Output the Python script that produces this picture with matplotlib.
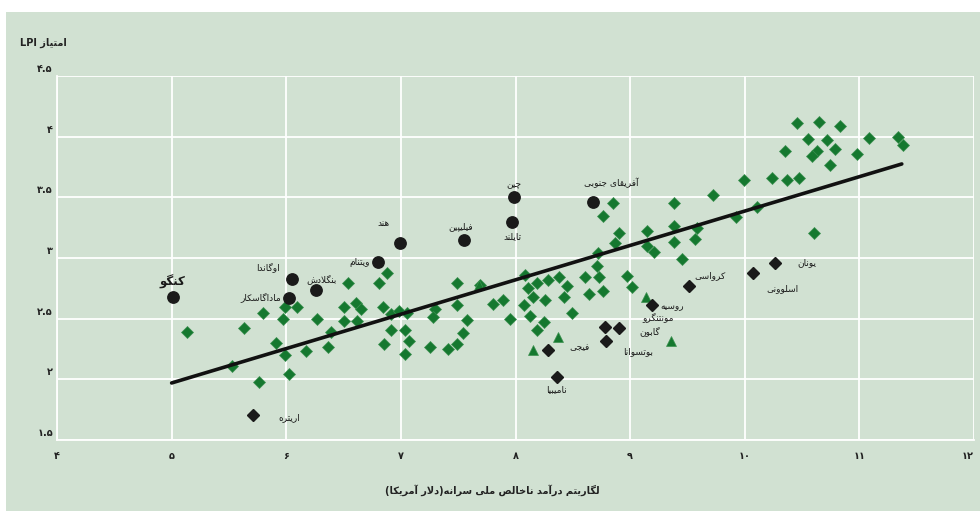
import matplotlib
matplotlib.use('Agg')
import matplotlib.pyplot as plt
import matplotlib.transforms as mtransforms
from matplotlib.patches import Rectangle

plt.rcParams['font.family'] = ['DejaVu Sans']

# ---------------- data ----------------
green_x = [5.13, 5.63, 5.80, 5.97, 5.99, 6.09, 6.27, 5.91, 5.99, 6.17, 6.36, 5.53, 6.02, 5.76,
           6.39, 6.50, 6.61, 6.65, 6.50, 6.62, 6.54, 6.81, 6.88, 6.84, 6.91, 6.98, 7.05, 6.91,
           7.04, 7.07, 6.85, 7.04, 7.25, 7.30, 7.28, 7.49, 7.49, 7.58, 7.54, 7.49, 7.41, 7.69,
           7.80, 7.89, 7.95, 8.08, 8.07, 8.13, 8.11, 8.19, 8.15, 8.26, 8.28, 8.38, 8.45, 8.42,
           8.49, 8.25, 8.19, 8.61, 8.71, 8.73, 8.64, 8.76, 8.72, 8.87, 8.90, 8.76, 8.85, 8.97,
           9.02, 9.15, 9.21, 9.15, 9.38, 9.72, 9.99, 10.11, 9.92, 9.38, 9.58, 9.57, 9.38, 9.45,
           10.46, 10.65, 10.83, 10.55, 10.72, 10.79, 10.63, 10.59, 10.74, 10.35, 10.98, 11.08,
           11.34, 11.38, 10.24, 10.37, 10.47, 10.60]
green_y = [2.39, 2.42, 2.55, 2.50, 2.60, 2.60, 2.50, 2.30, 2.20, 2.23, 2.27, 2.11, 2.04, 1.98,
           2.39, 2.60, 2.63, 2.58, 2.48, 2.48, 2.79, 2.79, 2.88, 2.60, 2.54, 2.56, 2.55, 2.41,
           2.41, 2.32, 2.29, 2.21, 2.27, 2.58, 2.51, 2.79, 2.61, 2.49, 2.38, 2.29, 2.25, 2.78,
           2.62, 2.65, 2.50, 2.86, 2.61, 2.52, 2.75, 2.79, 2.68, 2.65, 2.82, 2.84, 2.77, 2.68,
           2.55, 2.47, 2.41, 2.84, 2.93, 2.84, 2.70, 2.73, 3.04, 3.12, 3.21, 3.35, 3.45, 2.85,
           2.76, 3.22, 3.05, 3.10, 3.45, 3.52, 3.64, 3.42, 3.34, 3.26, 3.25, 3.16, 3.13, 2.99,
           4.11, 4.12, 4.09, 3.98, 3.97, 3.90, 3.88, 3.84, 3.77, 3.88, 3.86, 3.99,
           4.00, 3.93, 3.66, 3.64, 3.66, 3.21]

tri_x = [7.68, 8.15, 8.37, 9.14, 9.36]
tri_y = [2.78, 2.24, 2.35, 2.68, 2.32]

circle_names = ['کنگو', 'اوگاندا', 'ماداگاسکار', 'بنگلادش', 'ویتنام', 'هند', 'فیلیپین',
                'چین', 'تایلند', 'آفریقای جنوبی']
circle_x = [5.01, 6.05, 6.02, 6.26, 6.80, 6.99, 7.55, 7.99, 7.97, 8.68]
circle_y = [2.68, 2.83, 2.67, 2.74, 2.97, 3.12, 3.15, 3.50, 3.30, 3.46]

black_names = ['اریتره', 'نامیبیا', 'فیجی', 'مونتنگرو', 'گابون', 'بوتسوانا', 'روسیه',
               'کرواسی', 'اسلوونی', 'یونان']
black_x = [5.71, 8.36, 8.28, 8.78, 8.90, 8.79, 9.19, 9.51, 10.07, 10.26]
black_y = [1.71, 2.02, 2.24, 2.43, 2.42, 2.32, 2.61, 2.77, 2.88, 2.96]

trend_x = [5.0, 11.37]
trend_y = [1.97, 3.775]

x_ticks = [4, 5, 6, 7, 8, 9, 10, 11, 12]
x_tick_labels = ['۴', '۵', '۶', '۷', '۸', '۹', '۱۰', '۱۱', '۱۲']
y_ticks = [1.5, 2.0, 2.5, 3.0, 3.5, 4.0, 4.5]
y_tick_labels = ['۱.۵', '۲', '۲.۵', '۳', '۳.۵', '۴', '۴.۵']

x_title = 'لگاریتم درآمد ناخالص ملی سرانه(دلار آمریکا)'
y_title = 'امتیاز LPI'

# ---------------- label layout (pixel offsets, ha) ----------------
label_layout = {
    'کنگو': (0, 15, 'center'),
    'اوگاندا': (-12, 11, 'right'),
    'ماداگاسکار': (-7, 1, 'right'),
    'بنگلادش': (6, 10, 'center'),
    'ویتنام': (-8, -1, 'right'),
    'هند': (-16, 20, 'center'),
    'فیلیپین': (-3, 13, 'center'),
    'چین': (0, 13, 'center'),
    'تایلند': (0, -15, 'center'),
    'آفریقای جنوبی': (18, 19, 'center'),
    'اریتره': (25, -3, 'left'),
    'نامیبیا': (0, -13, 'center'),
    'فیجی': (22, 3, 'left'),
    'مونتنگرو': (37, 10, 'left'),
    'گابون': (21, -3, 'left'),
    'بوتسوانا': (17, -11, 'left'),
    'روسیه': (8, -1, 'left'),
    'کرواسی': (6, 10, 'left'),
    'اسلوونی': (30, -16, 'center'),
    'یونان': (23, 0, 'left'),
}

# ---------------- Persian shaping ----------------
AR = {
    '\u0627': ('\uFE8D', '\uFE8E'), '\u0622': ('\uFE81', '\uFE82'),
    '\u062F': ('\uFEA9', '\uFEAA'), '\u0630': ('\uFEAB', '\uFEAC'),
    '\u0631': ('\uFEAD', '\uFEAE'), '\u0632': ('\uFEAF', '\uFEB0'),
    '\u0698': ('\uFB8A', '\uFB8B'), '\u0648': ('\uFEED', '\uFEEE'),
    '\u0628': ('\uFE8F', '\uFE90', '\uFE91', '\uFE92'),
    '\u067E': ('\uFB56', '\uFB57', '\uFB58', '\uFB59'),
    '\u062A': ('\uFE95', '\uFE96', '\uFE97', '\uFE98'),
    '\u062B': ('\uFE99', '\uFE9A', '\uFE9B', '\uFE9C'),
    '\u062C': ('\uFE9D', '\uFE9E', '\uFE9F', '\uFEA0'),
    '\u0686': ('\uFB7A', '\uFB7B', '\uFB7C', '\uFB7D'),
    '\u062D': ('\uFEA1', '\uFEA2', '\uFEA3', '\uFEA4'),
    '\u062E': ('\uFEA5', '\uFEA6', '\uFEA7', '\uFEA8'),
    '\u0633': ('\uFEB1', '\uFEB2', '\uFEB3', '\uFEB4'),
    '\u0634': ('\uFEB5', '\uFEB6', '\uFEB7', '\uFEB8'),
    '\u0635': ('\uFEB9', '\uFEBA', '\uFEBB', '\uFEBC'),
    '\u0636': ('\uFEBD', '\uFEBE', '\uFEBF', '\uFEC0'),
    '\u0637': ('\uFEC1', '\uFEC2', '\uFEC3', '\uFEC4'),
    '\u0638': ('\uFEC5', '\uFEC6', '\uFEC7', '\uFEC8'),
    '\u0639': ('\uFEC9', '\uFECA', '\uFECB', '\uFECC'),
    '\u063A': ('\uFECD', '\uFECE', '\uFECF', '\uFED0'),
    '\u0641': ('\uFED1', '\uFED2', '\uFED3', '\uFED4'),
    '\u0642': ('\uFED5', '\uFED6', '\uFED7', '\uFED8'),
    '\u06A9': ('\uFB8E', '\uFB8F', '\uFB90', '\uFB91'),
    '\u06AF': ('\uFB92', '\uFB93', '\uFB94', '\uFB95'),
    '\u0644': ('\uFEDD', '\uFEDE', '\uFEDF', '\uFEE0'),
    '\u0645': ('\uFEE1', '\uFEE2', '\uFEE3', '\uFEE4'),
    '\u0646': ('\uFEE5', '\uFEE6', '\uFEE7', '\uFEE8'),
    '\u0647': ('\uFEE9', '\uFEEA', '\uFEEB', '\uFEEC'),
    '\u06CC': ('\uFBFC', '\uFBFD', '\uFBFE', '\uFBFF'),
}
LAM_ALEF = {'\u0627': ('\uFEFB', '\uFEFC'), '\u0622': ('\uFEF5', '\uFEF6')}
MIRROR = {'(': ')', ')': '('}


def shape(s):
    out = []
    n = len(s)
    i = 0
    prev_dual = False
    while i < n:
        c = s[i]
        if c not in AR:
            out.append(c)
            prev_dual = False
            i += 1
            continue
        if c == '\u0644' and i + 1 < n and s[i + 1] in LAM_ALEF:
            f = LAM_ALEF[s[i + 1]]
            out.append(f[1] if prev_dual else f[0])
            prev_dual = False
            i += 2
            continue
        forms = AR[c]
        dual = len(forms) == 4
        nxt = s[i + 1] if i + 1 < n else ''
        jn = dual and nxt in AR
        jp = prev_dual
        if jp and jn:
            g = forms[3]
        elif jp:
            g = forms[1]
        elif jn:
            g = forms[2]
        else:
            g = forms[0]
        out.append(g)
        prev_dual = dual
        i += 1
    return ''.join(out)


def rtl(s):
    s = shape(s)
    runs = []
    for ch in s:
        ltr = (ch.isascii() and ch.isalnum()) or ('\u06F0' <= ch <= '\u06F9')
        if runs and runs[-1][0] == ltr:
            runs[-1][1].append(ch)
        else:
            runs.append([ltr, [ch]])
    vis = []
    for ltr, chars in reversed(runs):
        if ltr:
            vis.append(''.join(chars))
        else:
            vis.append(''.join(MIRROR.get(c, c) for c in reversed(chars)))
    return ''.join(vis)


# ---------------- figure ----------------
W, H = 980, 511
fig = plt.figure(figsize=(W / 100, H / 100), dpi=100, facecolor='white')
bg = '#d1e1d2'
fig.patches.append(Rectangle((6 / W, 0), 1 - 6 / W, 1 - 12 / H, transform=fig.transFigure,
                             facecolor=bg, edgecolor='none', zorder=-10))

ax = fig.add_axes([57 / W, 71 / H, 917 / W, 364 / H])
ax.set_zorder(1)
ax.set_facecolor('none')
ax.set_xlim(4, 12)
ax.set_ylim(1.5, 4.5)
ax.set_axisbelow(True)
ax.grid(True, color='white', linewidth=1.3)
for sp in ['top', 'right']:
    ax.spines[sp].set_visible(False)
for sp in ['left', 'bottom']:
    ax.spines[sp].set_color('white')
    ax.spines[sp].set_linewidth(1.3)

ax.set_xticks(x_ticks)
ax.set_xticklabels(x_tick_labels, fontsize=7, fontweight='bold', color='#222222')
ax.set_yticks(y_ticks)
ax.set_yticklabels(y_tick_labels, fontsize=7, fontweight='bold', color='#222222')
ax.tick_params(axis='both', length=0)
ax.tick_params(axis='x', pad=8)
ax.tick_params(axis='y', pad=3)
off = mtransforms.ScaledTranslation(0, 8 / 100, fig.dpi_scale_trans)
for lab in ax.get_yticklabels():
    lab.set_transform(lab.get_transform() + off)
ax.get_xticklabels()[-1].set_horizontalalignment('right')

dgreen = '#15782f'
ax.plot(green_x, green_y, linestyle='none', marker='D', markersize=6.6,
        markerfacecolor=dgreen, markeredgecolor='#3c9050', markeredgewidth=0.5, zorder=3)
ax.plot(tri_x, tri_y, linestyle='none', marker='^', markersize=7.5,
        markerfacecolor=dgreen, markeredgecolor='#3c9050', markeredgewidth=0.5, zorder=3)
ax.plot(trend_x, trend_y, color='#111111', linewidth=2.6, solid_capstyle='round', zorder=4)
ax.plot(circle_x, circle_y, linestyle='none', marker='o', markersize=8.2,
        markerfacecolor='#1a1a1a', markeredgecolor='#1a1a1a', zorder=5)
ax.plot(black_x, black_y, linestyle='none', marker='D', markersize=6.0,
        markerfacecolor='#1a1a1a', markeredgecolor='#1a1a1a', zorder=5)

for names, xs, ys in [(circle_names, circle_x, circle_y), (black_names, black_x, black_y)]:
    for nm, x, y in zip(names, xs, ys):
        dx, dy, ha = label_layout[nm]
        big = nm == 'کنگو'
        ax.annotate(rtl(nm), (x, y), xytext=(dx * 0.72, dy * 0.72), textcoords='offset points',
                    ha=ha, va='center', fontsize=8.5 if big else 6.5,
                    fontweight='bold' if big else 'normal', color='#1a1a1a', zorder=6)

fig.text(492 / W, 1 - 490 / H, rtl(x_title), ha='center', va='center', fontsize=7,
         fontweight='bold', color='#222222')
fig.text(20 / W, 1 - 43 / H, rtl(y_title), ha='left', va='center', fontsize=7,
         fontweight='bold', color='#222222')

fig.savefig('out.png', dpi=100, facecolor='white')
